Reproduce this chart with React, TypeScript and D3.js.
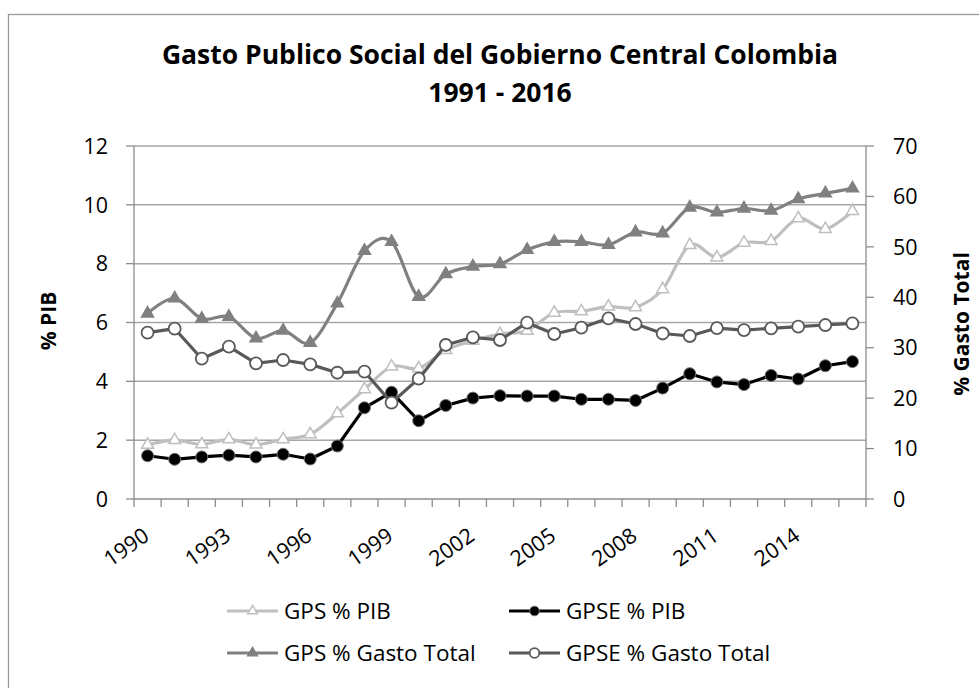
import React from "react";
import * as d3 from "d3";

const years: number[] = d3.range(1990, 2017);
const gpsPib: number[] = [1.84, 2.0, 1.86, 2.03, 1.85, 2.03, 2.2, 2.91, 3.73, 4.5, 4.44, 5.06, 5.38, 5.61, 5.72, 6.33, 6.38, 6.54, 6.52, 7.13, 8.63, 8.21, 8.71, 8.77, 9.54, 9.18, 9.79];
const gpsePib: number[] = [1.47, 1.35, 1.43, 1.49, 1.43, 1.52, 1.36, 1.8, 3.1, 3.63, 2.66, 3.18, 3.43, 3.51, 3.5, 3.5, 3.39, 3.39, 3.35, 3.77, 4.26, 3.98, 3.89, 4.2, 4.08, 4.53, 4.67];
const gpsGasto: number[] = [36.8, 39.8, 35.75, 36.15, 31.86, 33.4, 31.0, 38.8, 49.2, 51.0, 40.1, 44.6, 46.1, 46.6, 49.4, 51.0, 51.0, 50.4, 52.9, 52.7, 57.8, 56.85, 57.6, 57.2, 59.5, 60.6, 61.6];
const gpseGasto: number[] = [32.98, 33.77, 27.82, 30.2, 26.9, 27.56, 26.7, 25.04, 25.24, 19.1, 23.86, 30.54, 32.06, 31.53, 34.96, 32.72, 33.97, 35.83, 34.7, 32.82, 32.32, 33.9, 33.5, 33.85, 34.17, 34.5, 34.84];
const leftTicks: number[] = [0, 2, 4, 6, 8, 10, 12];
const rightTicks: number[] = [0, 10, 20, 30, 40, 50, 60, 70];
const xLabelYears: number[] = [1990, 1993, 1996, 1999, 2002, 2005, 2008, 2011, 2014];
const titleLines: string[] = ["Gasto Publico Social del Gobierno Central Colombia", "1991 - 2016"];
const leftTitle = "% PIB";
const rightTitle = "% Gasto Total";

type Series = {
  name: string;
  values: number[];
  axis: "L" | "R";
  color: string;
  marker: "triOpen" | "circleFill" | "triFill" | "circleOpen";
  smooth: boolean;
};

const series: Series[] = [
  { name: "GPS % PIB", values: gpsPib, axis: "L", color: "#BFBFBF", marker: "triOpen", smooth: true },
  { name: "GPSE % PIB", values: gpsePib, axis: "L", color: "#000000", marker: "circleFill", smooth: false },
  { name: "GPS % Gasto Total", values: gpsGasto, axis: "R", color: "#808080", marker: "triFill", smooth: true },
  { name: "GPSE % Gasto Total", values: gpseGasto, axis: "R", color: "#595959", marker: "circleOpen", smooth: false },
];

const FONT = "'Open Sans', 'DejaVu Sans', sans-serif";
const W = 979;
const H = 688;
const P = { left: 134, right: 866, top: 146, bottom: 499 };

function Marker({ kind, color, x, y, scale = 1 }: { kind: Series["marker"]; color: string; x: number; y: number; scale?: number }) {
  if (kind === "triOpen" || kind === "triFill") {
    const d = d3.symbol(d3.symbolTriangle, 62 * scale * scale)() as string;
    return (
      <path
        d={d}
        transform={`translate(${x},${y})`}
        fill={kind === "triOpen" ? "#ffffff" : color}
        stroke={color}
        strokeWidth={1.5}
      />
    );
  }
  const r = 6 * scale;
  if (kind === "circleFill") {
    return <circle cx={x} cy={y} r={r} fill="#000" stroke="#707070" strokeWidth={1} />;
  }
  return <circle cx={x} cy={y} r={r} fill="#fff" stroke={color} strokeWidth={1.8} />;
}

export default function App() {
  const x = d3.scaleBand<number>().domain(years).range([P.left, P.right]);
  const bw = x.bandwidth();
  const cx = (yr: number) => (x(yr) as number) + bw / 2;
  const yL = d3.scaleLinear().domain([0, 12]).range([P.bottom, P.top]);
  const yR = d3.scaleLinear().domain([0, 70]).range([P.bottom, P.top]);

  const boundaries = d3.range(0, years.length + 1).map((i) => P.left + i * bw);

  const legendItems = [
    { s: series[0], lx: 227, ly: 611 },
    { s: series[1], lx: 509, ly: 611 },
    { s: series[2], lx: 227, ly: 653 },
    { s: series[3], lx: 509, ly: 653 },
  ];

  return (
    <svg width={W} height={H} style={{ position: "absolute", left: 0, top: 0, background: "#fff" }} fontFamily={FONT}>
      <rect x={0} y={0} width={W} height={H} fill="#fff" />
      <rect x={8.5} y={14.5} width={1100} height={1000} fill="none" stroke="#999" strokeWidth={1.3} />

      {titleLines.map((t, i) => (
        <text key={i} x={500} y={64 + i * 38} textAnchor="middle" fontSize={26.5} fontWeight="bold" fill="#000">
          {t}
        </text>
      ))}

      {/* gridlines */}
      {leftTicks.filter((v) => v > 0).map((v) => (
        <line key={v} x1={P.left} x2={P.right} y1={yL(v)} y2={yL(v)} stroke="#A6A6A6" strokeWidth={1.5} />
      ))}

      {/* axes */}
      <line x1={P.left} x2={P.left} y1={P.top} y2={P.bottom} stroke="#8C8C8C" strokeWidth={1.3} />
      <line x1={P.right} x2={P.right} y1={P.top} y2={P.bottom} stroke="#8C8C8C" strokeWidth={1.3} />
      <line x1={P.left} x2={P.right} y1={P.bottom} y2={P.bottom} stroke="#8C8C8C" strokeWidth={1.3} />
      {leftTicks.map((v) => (
        <g key={"l" + v}>
          <line x1={P.left - 8} x2={P.left} y1={yL(v)} y2={yL(v)} stroke="#8C8C8C" strokeWidth={1.3} />
          <text x={108} y={yL(v)} dy="0.36em" textAnchor="end" fontSize={21.5} fill="#000">
            {v}
          </text>
        </g>
      ))}
      {rightTicks.map((v) => (
        <g key={"r" + v}>
          <line x1={P.right} x2={P.right + 8} y1={yR(v)} y2={yR(v)} stroke="#8C8C8C" strokeWidth={1.3} />
          <text x={893} y={yR(v)} dy="0.36em" textAnchor="start" fontSize={21.5} fill="#000">
            {v}
          </text>
        </g>
      ))}
      {boundaries.map((bx, i) => (
        <line key={"b" + i} x1={bx} x2={bx} y1={P.bottom} y2={P.bottom + 8} stroke="#8C8C8C" strokeWidth={1.3} />
      ))}
      {xLabelYears.map((yr) => (
        <text
          key={yr}
          transform={`translate(${cx(yr) - 6},${526}) rotate(-35)`}
          dy="0.74em"
          textAnchor="end"
          fontSize={21.5}
          fill="#000"
        >
          {yr}
        </text>
      ))}

      <text transform={`translate(48,321) rotate(-90)`} textAnchor="middle" dy="0.36em" fontSize={21} fontWeight="bold">
        {leftTitle}
      </text>
      <text transform={`translate(961,324) rotate(-90)`} textAnchor="middle" dy="0.36em" fontSize={21} fontWeight="bold">
        {rightTitle}
      </text>

      {/* series */}
      {series.map((s) => {
        const ys = s.axis === "L" ? yL : yR;
        const line = d3
          .line<number>()
          .x((_, i) => cx(years[i]))
          .y((v) => ys(v))
          .curve(s.smooth ? d3.curveCardinal.tension(0) : d3.curveLinear);
        return (
          <g key={s.name}>
            <path d={line(s.values) as string} fill="none" stroke={s.color} strokeWidth={3.2} strokeLinejoin="round" />
            {s.values.map((v, i) => (
              <Marker key={i} kind={s.marker} color={s.color} x={cx(years[i])} y={ys(v)} />
            ))}
          </g>
        );
      })}

      {/* legend */}
      {legendItems.map(({ s, lx, ly }) => (
        <g key={"lg" + s.name}>
          <line x1={lx} x2={lx + 51} y1={ly} y2={ly} stroke={s.color} strokeWidth={3.2} />
          <Marker kind={s.marker} color={s.color} x={lx + 25.5} y={ly} scale={0.8} />
          <text x={lx + 57} y={ly} dy="0.36em" fontSize={22.5} fill="#000">
            {s.name}
          </text>
        </g>
      ))}
    </svg>
  );
}
